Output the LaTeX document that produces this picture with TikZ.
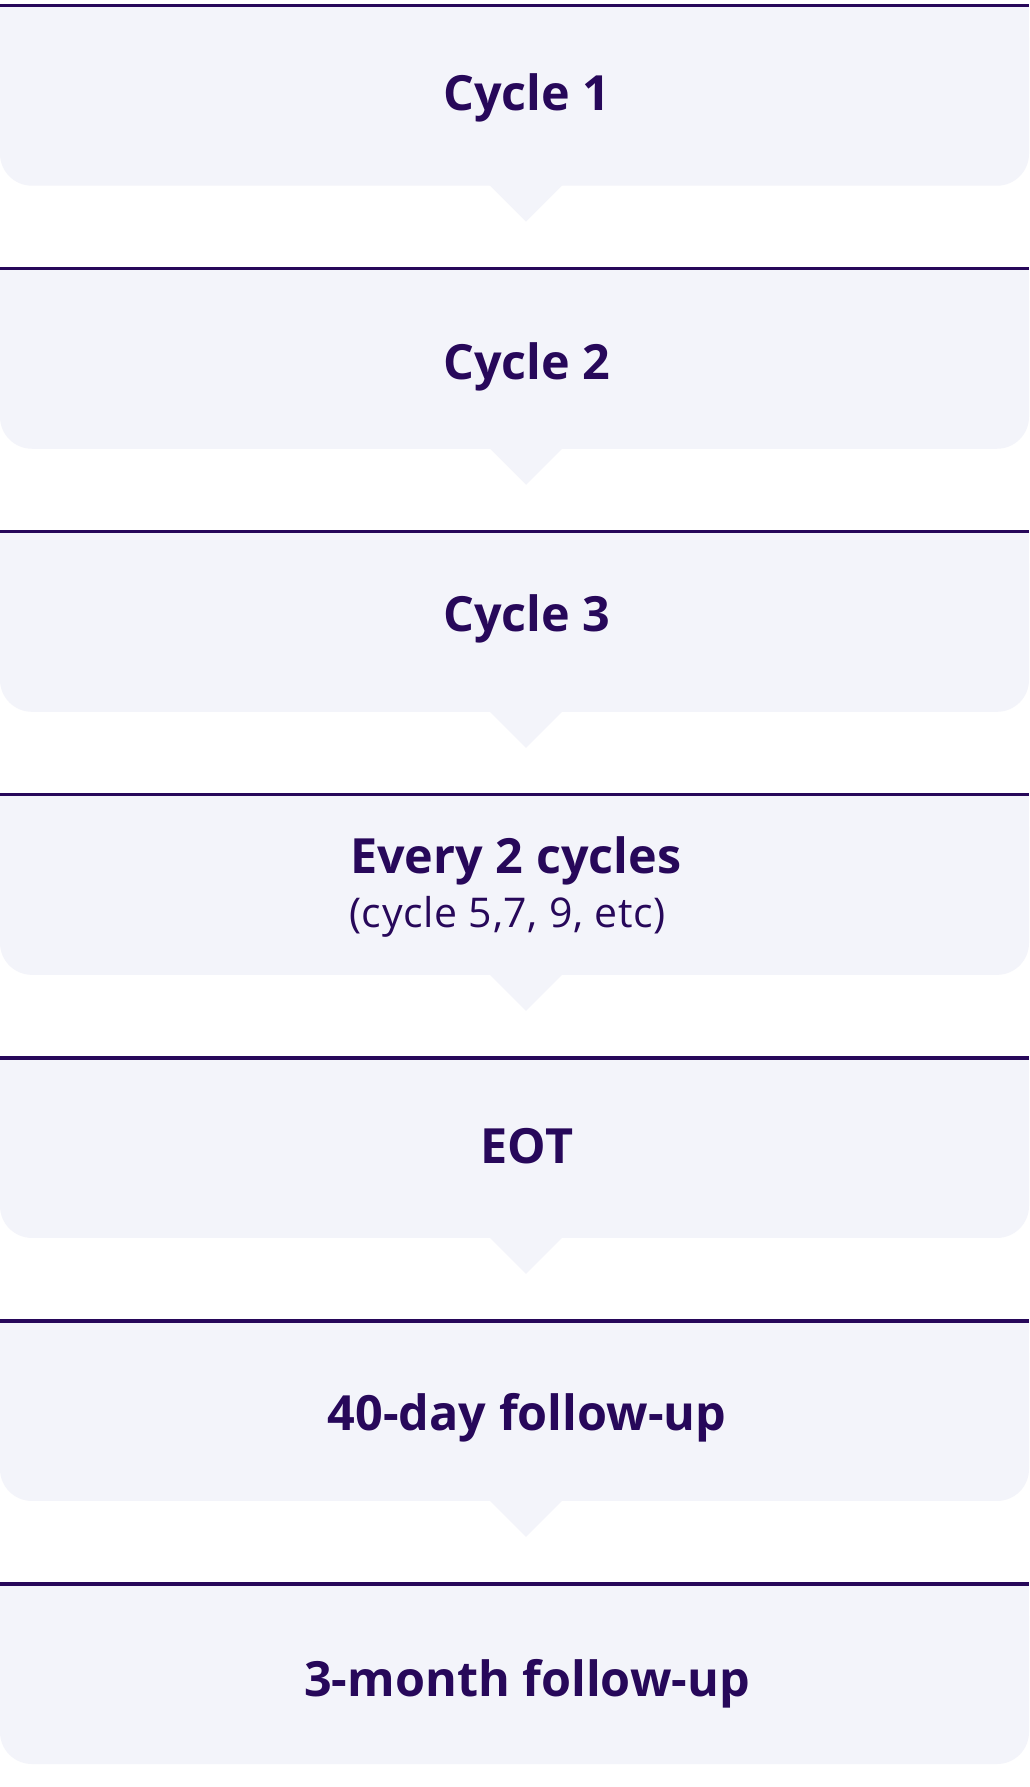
\documentclass[tikz,border=0pt]{standalone}
\usepackage{fontspec}
\setmainfont{Open Sans}
\definecolor{ink}{HTML}{27085A}
\definecolor{boxfill}{HTML}{F3F4FA}
\tikzset{
  x=1pt, y=-1pt,
  title/.style={inner sep=0pt, anchor=base, text=ink, font=\fontsize{48.5}{58}\selectfont\bfseries},
  subtitle/.style={inner sep=0pt, anchor=base west, text=ink, font=\fontsize{41}{48}\selectfont\addfontfeature{LetterSpace=1.6}},
  topline/.style={draw=ink, line width=3.2pt},
  panel/.style={fill=boxfill},
}
\begin{document}
\begin{tikzpicture}
\useasboundingbox (0,0) rectangle (1029,1787);
\fill[white] (0,0) rectangle (1029,1787);
% panels
\foreach \i/\tri in {0/1,1/1,2/1,3/1,4/1,5/1,6/0}{
  \pgfmathsetmacro{\yy}{5.7+263.05*\i}
  \fill[panel, rounded corners=32pt] (0,\yy) rectangle (1029,\yy+180);
  \fill[panel] (0,\yy) rectangle (1029,\yy+100);
  \ifnum\tri=1
    \fill[panel] (489,\yy+179) -- (526,\yy+216) -- (563,\yy+179) -- cycle;
  \fi
  \draw[topline] (0,\yy) -- (1029,\yy);
}
\node[title] (c1) at (527,110.7) {Cycle 1};
\node[title] (c2) at (527,379) {Cycle 2};
\node[title] (c3) at (527,631.5) {Cycle 3};
\node[title, anchor=base west] (e2) at (350,873) {Every 2 cycles};
\node[subtitle] (e2s) at (349,927) {(cycle 5,7, 9, etc)};
\node[title] (eot) at (527,1163) {EOT};
\node[title] (f40) at (527,1430) {40-day follow-up};
\node[title] (f3m) at (527,1696.7) {3-month follow-up};
\end{tikzpicture}
\end{document}
